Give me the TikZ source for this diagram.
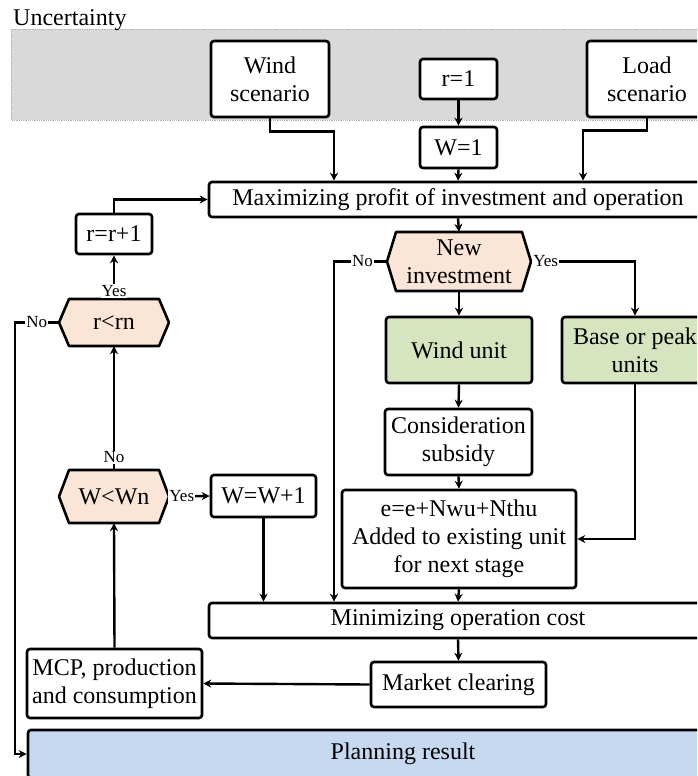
\documentclass[tikz,border=0pt]{standalone}
\usepackage{fontspec}
\setmainfont{Liberation Serif}
\usetikzlibrary{arrows.meta}
\definecolor{bandgray}{HTML}{D9D9D9}
\definecolor{peach}{HTML}{FBE5D6}
\definecolor{lgreen}{HTML}{D6E4BF}
\definecolor{lblue}{HTML}{C6D9F0}
\newcommand{\hexnode}[7]{%
  \draw[hexdraw] (#2-#4/2,#3) -- (#2-#4/2+#6,#3-#5/2) -- (#2+#4/2-#6,#3-#5/2) -- (#2+#4/2,#3)
     -- (#2+#4/2-#6,#3+#5/2) -- (#2-#4/2+#6,#3+#5/2) -- cycle;
  \node[hexnode, minimum width=#4, minimum height=#5] (#1) at (#2,#3) {#7};}
\begin{document}
\begin{tikzpicture}[x=1pt,y=-1pt,
  every node/.style={font=\fontsize{24}{28}\selectfont},
  box/.style={draw, line width=2.6pt, rounded corners=3pt, align=center, inner sep=0pt, fill=white},
  hexdraw/.style={draw, line width=2.6pt, fill=peach, line join=round},
  hexnode/.style={align=center, inner sep=0pt},
  arr/.style={line width=2.4pt, -{Stealth[length=8pt,width=8pt]}},
  lbl/.style={font=\fontsize{17}{19}\selectfont, fill=white, inner sep=1pt}]
\useasboundingbox (0,0) rectangle (697,776);
\clip (0,0) rectangle (697,776);
% uncertainty band
\fill[bandgray] (11,29) rectangle (720,120);
\draw[gray!60, densely dotted, line width=0.8pt] (720,29) -- (11,29) -- (11,120) -- (720,120);
\node[anchor=base west, inner sep=0pt] (unc) at (13,26) {Uncertainty};
% nodes
\node[box, minimum width=118, minimum height=76] (wind) at (270,79) {Wind\\scenario};
\node[box, minimum width=77, minimum height=40] (r1) at (458.5,79) {r=1};
\node[box, minimum width=120, minimum height=76] (load) at (647,79) {Load\\scenario};
\node[box, minimum width=77, minimum height=41] (w1) at (458.5,147.5) {W=1};
\node[box, minimum width=498, minimum height=35] (max) at (458,199.5) {Maximizing profit of investment and operation};
\node[box, minimum width=76, minimum height=40] (rr) at (114,234) {r=r+1};
\hexnode{rn}{114}{322.5}{110}{47}{10}{r<rn}
\hexnode{newinv}{459}{261.5}{144}{59}{9}{New\\investment}
\node[box, fill=lgreen, minimum width=146, minimum height=66] (windu) at (459,350) {Wind unit};
\node[box, fill=lgreen, minimum width=146, minimum height=66] (base) at (635,350) {Base or peak\\units};
\node[box, minimum width=147, minimum height=66] (cons) at (458.5,442) {Consideration\\subsidy};
\node[box, minimum width=234, minimum height=98] (ebox) at (459,539) {e=e+Nwu+Nthu\\Added to existing unit\\for next stage};
\hexnode{wn}{114}{496.5}{110}{53}{10}{W<Wn}
\node[box, minimum width=105, minimum height=42] (ww) at (263.5,496) {W=W+1};
\node[box, minimum width=498, minimum height=35] (min) at (458,620.5) {Minimizing operation cost};
\node[box, minimum width=175, minimum height=69] (mcp) at (114.5,683.5) {MCP, production\\and consumption};
\node[box, minimum width=175, minimum height=45] (mc) at (458.5,684.5) {Market clearing};
\node[box, fill=lblue, minimum width=750, minimum height=48] (plan) at (403,754) {Planning result};
% connectors
\draw[arr] (wind.south) -- ++(0,13) -| ([xshift=-124pt]max.north);
\draw[arr] (load.south) -- ++(0,12) -| ([xshift=125pt]max.north);
\draw[arr] (r1.south) -- (w1.north);
\draw[arr] (w1.south) -- (max.north);
\draw[arr] (max.south) -- (newinv.north);
\draw[arr] (newinv.west) -| ([xshift=-124pt]min.north) node[lbl, pos=0.23] {No};
\draw[arr] (newinv.east) -| (base.north) node[lbl, pos=0.07] {Yes};
\draw[arr] (newinv.south) -- (windu.north);
\draw[arr] (windu.south) -- (cons.north);
\draw[arr] (cons.south) -- (ebox.north);
\draw[arr] (ebox.south) -- (min.north);
\draw[arr] (base.south) |- (ebox.east);
\draw[arr] (min.south) -- (mc.north);
\draw[arr] (mc.west) -- (mcp.east);
\draw[arr] (mcp.north) -- (wn.south);
\draw[arr] (wn.east) -- (ww.west) node[lbl, pos=0.31] {Yes};
\draw[arr] (ww.south) -- (ww.south |- min.north);
\draw[arr] (wn.north) -- (rn.south) node[lbl, pos=0.1] {No};
\draw[arr] (rn.north) -- (rr.south) node[lbl, pos=0.18] {Yes};
\draw[arr] (rr.north) |- (max.west);
\draw[arr] (rn.west) -- node[lbl] {No} ++(-44,0) |- (plan.west);
\end{tikzpicture}
\end{document}
